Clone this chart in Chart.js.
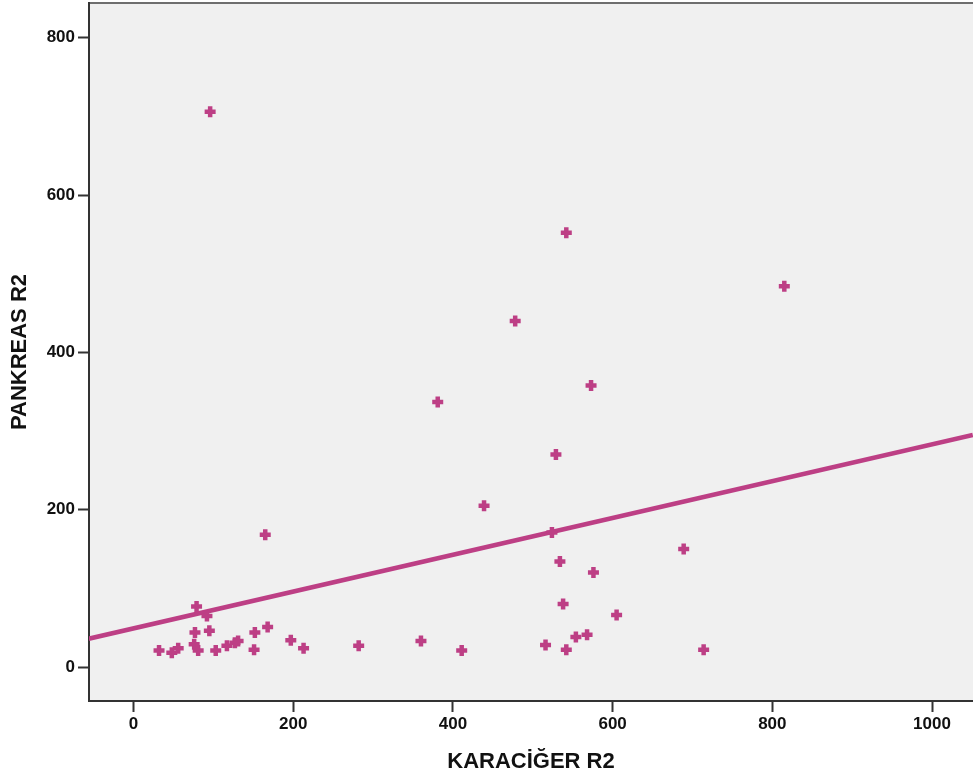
<!DOCTYPE html>
<html>
<head>
<meta charset="utf-8">
<script src="https://cdn.jsdelivr.net/npm/chart.js@4/dist/chart.umd.min.js"></script>
<style>
  html, body { margin: 0; padding: 0; background: #ffffff; }
  canvas { display: block; }
</style>
</head>
<body>
<canvas id="chart" width="973" height="781"></canvas>
<script>
// KARACİĞER R2 (x) ve PANKREAS R2 (y) - okunan degerler
const karacigerR2 = [32, 48, 56, 77, 76, 81, 79, 92, 95, 103, 117, 127, 131, 152, 151, 168, 197, 213, 165, 96,
                     282, 360, 411, 516, 538, 542, 554, 568, 605, 439, 524, 534, 576, 689, 714, 542, 478, 815, 573, 381, 529];
const pankreasR2 = [21, 18, 24, 44, 29, 21, 77, 65, 46, 21, 27, 31, 33, 44, 22, 51, 34, 24, 168, 706,
                    27, 33, 21, 28, 80, 22, 38, 41, 66, 205, 171, 134, 120, 150, 22, 552, 440, 484, 358, 337, 270];

// fit line (uç noktalar)
const fitLineX = [-56, 1051];
const fitLineY = [36, 295];

const xTicks = [0, 200, 400, 600, 800, 1000];
const yTicks = [0, 200, 400, 600, 800];

const renk = '#bd3f85';
const fonte = '"Liberation Sans", Arial, sans-serif';

const pontos = karacigerR2.map((v, i) => ({ x: v, y: pankreasR2[i] }));
const linha = fitLineX.map((v, i) => ({ x: v, y: fitLineY[i] }));

// fundo cinza da area do grafico + borda de cima
const fundoPlugin = {
    id: 'fundo',
    beforeDraw(chart) {
        const { ctx, chartArea } = chart;
        ctx.save();
        ctx.fillStyle = '#f0f0f0';
        ctx.fillRect(chartArea.left, chartArea.top, chartArea.right - chartArea.left, chartArea.bottom - chartArea.top);
        ctx.strokeStyle = '#6e6e6e';
        ctx.lineWidth = 2;
        ctx.beginPath();
        ctx.moveTo(chartArea.left, chartArea.top);
        ctx.lineTo(chartArea.right, chartArea.top);
        ctx.stroke();
        ctx.restore();
    }
};

// sem padding extra dos rotulos
function semPadding(scale) {
    scale.paddingTop = 0;
    scale.paddingBottom = 0;
    scale.paddingLeft = 0;
    scale.paddingRight = 0;
}

const ctx = document.getElementById('chart').getContext('2d');
const chart = new Chart(ctx, {
    type: 'scatter',
    data: {
        datasets: [{
            type: 'line',
            data: linha,
            borderColor: renk,
            borderWidth: 4.5,
            pointRadius: 0,
            fill: false,
            order: 2
        }, {
            data: pontos,
            pointStyle: 'cross',
            pointRadius: 5.5,
            pointBorderWidth: 4.5,
            borderColor: renk,
            backgroundColor: renk,
            order: 1
        }]
    },
    options: {
        responsive: false,
        animation: false,
        devicePixelRatio: 1,
        layout: { autoPadding: false, padding: { top: 3, right: 0, left: 0, bottom: 0 } },
        plugins: {
            legend: { display: false },
            tooltip: { enabled: false }
        },
        scales: {
            x: {
                type: 'linear',
                min: -55.7,
                max: 1051.3,
                afterBuildTicks: (scale) => { scale.ticks = xTicks.map(v => ({ value: v })); },
                afterFit: (scale) => { scale.height = 80; semPadding(scale); },
                grid: { drawOnChartArea: false, tickLength: 11, tickWidth: 2, tickColor: '#333333' },
                border: { color: '#333333', width: 2 },
                ticks: {
                    color: '#111111',
                    padding: 2,
                    font: { family: fonte, size: 17, weight: 'bold' },
                    callback: (v) => String(v)
                },
                title: {
                    display: true,
                    text: 'KARACİĞER R2',
                    color: '#111111',
                    padding: { top: 0, bottom: 6 },
                    font: { family: fonte, size: 22, weight: 'bold' }
                }
            },
            y: {
                type: 'linear',
                min: -43.2,
                max: 844.1,
                afterBuildTicks: (scale) => { scale.ticks = yTicks.map(v => ({ value: v })); },
                afterFit: (scale) => { scale.width = 89; semPadding(scale); },
                grid: { drawOnChartArea: false, tickLength: 11, tickWidth: 2, tickColor: '#333333' },
                border: { color: '#333333', width: 2 },
                ticks: {
                    color: '#111111',
                    padding: 3,
                    font: { family: fonte, size: 17, weight: 'bold' },
                    callback: (v) => String(v)
                },
                title: {
                    display: true,
                    text: 'PANKREAS R2',
                    color: '#111111',
                    padding: { top: 7, bottom: 0 },
                    font: { family: fonte, size: 22, weight: 'bold' }
                }
            }
        }
    },
    plugins: [fundoPlugin]
});
</script>
</body>
</html>
